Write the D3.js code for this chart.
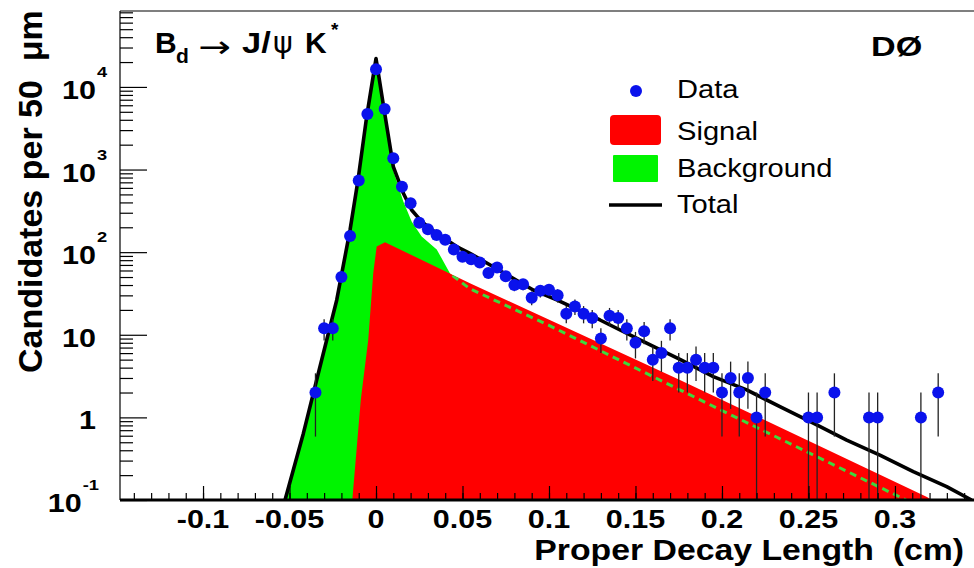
<!DOCTYPE html>
<html>
<head>
<meta charset="utf-8">
<script src="https://cdn.jsdelivr.net/npm/d3@7"></script>
<style>
  body { margin: 0; background: #fff; }
  svg { display: block; }
</style>
</head>
<body>
<svg id="chart" width="974" height="568"></svg>
<script>
// B_d -> J/psi K* proper decay length fit, candidates per 50 um bin

// Data histogram: bin centres (cm) and candidate counts (empty bins omitted)
const binCenters = [-0.035, -0.03, -0.025, -0.02, -0.015, -0.01, -0.005, 0, 0.005, 0.01,
  0.015, 0.02, 0.025, 0.03, 0.035, 0.04, 0.045, 0.05, 0.055, 0.06,
  0.065, 0.07, 0.075, 0.08, 0.085, 0.09, 0.095, 0.1, 0.105, 0.11,
  0.115, 0.12, 0.125, 0.13, 0.135, 0.14, 0.145, 0.15, 0.155, 0.16,
  0.165, 0.17, 0.175, 0.18, 0.185, 0.19, 0.195, 0.2, 0.205, 0.21,
  0.215, 0.22, 0.225, 0.25, 0.255, 0.265, 0.285, 0.29, 0.315, 0.325];
const binCounts = [2, 12, 12, 50, 157, 735, 4700, 16400, 5400, 1370,
  620, 390, 227, 189, 161, 141, 108, 88, 82, 75,
  56, 65, 51, 40, 41, 28, 34, 35, 30, 18,
  22, 18, 16, 9, 17, 16, 12, 8, 11, 5,
  6, 12, 4, 4, 5, 4, 4, 2, 3, 2,
  3, 1, 2, 1, 1, 2, 1, 1, 1, 2];

// Fit curves: total, signal and background components
const totalX = [-0.0526, -0.042, -0.0324, -0.0227, -0.015, -0.0104, -0.0054, 0, 0.0049, 0.01,
  0.0158, 0.0206, 0.0264, 0.0351, 0.0466, 0.0543, 0.0909, 0.1045, 0.1295, 0.1526,
  0.1757, 0.195, 0.2143, 0.2335, 0.2528, 0.2721, 0.2913, 0.3106, 0.3299, 0.3443];
const totalY = [0.1, 0.64, 4.1, 26.4, 186, 748, 4370, 22000, 4980, 1085,
  516, 324, 234, 169, 117, 97, 34.8, 26.4, 15.1, 8.65,
  5.05, 3.11, 2.15, 1.35, 0.85, 0.53, 0.35, 0.22, 0.145, 0.1];

const signalX = [-0.0137, -0.0088, -0.0045, -0.0016, 0.0004, 0.0052, 0.0543, 0.1757, 0.3185, 0.3212];
const signalY = [0.1, 1.63, 8.65, 55.6, 117, 132, 42, 2.84, 0.109, 0.1];

const bkgX = [-0.0526, -0.042, -0.0324, -0.0227, -0.015, -0.0104, -0.0054, 0, 0.0049, 0.01,
  0.0158, 0.0206, 0.0264, 0.0351, 0.0428, 0.0543, 0.1, 0.1757, 0.2, 0.3064];
const bkgY = [0.1, 0.64, 4.1, 26, 186, 745, 4300, 21000, 4850, 970,
  410, 235, 155, 108, 55, 36, 13, 2.15, 1.21, 0.1];

// Axis ticks and labels
const xTickValues = [-0.1, -0.05, 0, 0.05, 0.1, 0.15, 0.2, 0.25, 0.3];
const xTickLabels = ["-0.1", "-0.05", "0", "0.05", "0.1", "0.15", "0.2", "0.25", "0.3"];
const yTickValues = [0.1, 1, 10, 100, 1000, 10000];
const yTickMantissa = ["10", "1", "10", "10", "10", "10"];
const yTickExponent = ["-1", "", "", "2", "3", "4"];

const legendLabels = ["Data", "Signal", "Background", "Total"];

const FONT = "'Liberation Sans', Arial, Helvetica, sans-serif";
const COL = { data: "#0a12ec", signal: "#ff0000", bkg: "#00f400", dash: "#3ed83e", err: "#222" };

const svg = d3.select("#chart");
const plot = { left: 120, right: 974, top: 11, bottom: 500 };

const x = d3.scaleLinear().domain([-0.148, 0.3457]).range([plot.left, plot.right]);
const y = d3.scaleLog().domain([0.1, 83000]).range([plot.bottom, plot.top]);

const pts = (xs, ys) => xs.map((v, i) => [v, ys[i]]);
const totalPts = pts(totalX, totalY);
const signalPts = pts(signalX, signalY);
const bkgPts = pts(bkgX, bkgY);

const defs = svg.append("defs");
defs.append("clipPath").attr("id", "frame")
  .append("rect").attr("x", plot.left).attr("y", plot.top)
  .attr("width", plot.right - plot.left).attr("height", plot.bottom - plot.top);

const area = d3.area().x(d => x(d[0])).y0(y(0.1)).y1(d => y(d[1]));
const line = d3.line().x(d => x(d[0])).y(d => y(d[1]));

defs.append("clipPath").attr("id", "signalClip")
  .append("path").attr("d", area(signalPts));

const g = svg.append("g").attr("clip-path", "url(#frame)");

// filled components
g.append("path").attr("d", area(bkgPts)).attr("fill", COL.bkg);
g.append("path").attr("d", area(signalPts)).attr("fill", COL.signal);
// background tail shown dashed where it runs underneath the signal
g.append("g").attr("clip-path", "url(#signalClip)")
  .append("path").attr("d", line(bkgPts)).attr("fill", "none")
  .attr("stroke", COL.dash).attr("stroke-width", 3).attr("stroke-dasharray", "7,5");
// total fit
g.append("path").attr("d", line(totalPts)).attr("fill", "none")
  .attr("stroke", "#000").attr("stroke-width", 3.6).attr("stroke-linejoin", "round");

// data with Poisson error bars
const data = binCenters.map((c, i) => ({ c, n: binCounts[i] }));
g.selectAll("line.err").data(data).join("line").attr("class", "err")
  .attr("x1", d => x(d.c)).attr("x2", d => x(d.c))
  .attr("y1", d => y(d.n + Math.sqrt(d.n)))
  .attr("y2", d => { const lo = d.n - Math.sqrt(d.n); return lo > 0.1 ? y(lo) : y(0.1); })
  .attr("stroke", COL.err).attr("stroke-width", 1.3);
g.selectAll("circle.pt").data(data).join("circle").attr("class", "pt")
  .attr("cx", d => x(d.c)).attr("cy", d => y(d.n)).attr("r", 6)
  .attr("fill", COL.data);

// axes
const axG = svg.append("g");
const xMinor = d3.range(-14, 35).map(k => k / 100);
axG.append("g").attr("transform", `translate(0,${plot.bottom})`)
  .call(d3.axisBottom(x).tickValues(xMinor).tickSize(-7).tickFormat(""))
  .call(s => s.select(".domain").remove());
axG.append("g").attr("transform", `translate(0,${plot.bottom})`)
  .call(d3.axisBottom(x).tickValues(xTickValues).tickSize(-14).tickFormat(""))
  .call(s => s.select(".domain").remove());

const yMinor = [];
for (let e = -1; e <= 4; e++) for (let m = 2; m <= 9; m++) {
  const v = m * Math.pow(10, e);
  if (v < 83000) yMinor.push(v);
}
axG.append("g").attr("transform", `translate(${plot.left},0)`)
  .call(d3.axisLeft(y).tickValues(yMinor).tickSize(-13).tickFormat(""))
  .call(s => s.select(".domain").remove());
axG.append("g").attr("transform", `translate(${plot.left},0)`)
  .call(d3.axisLeft(y).tickValues(yTickValues).tickSize(-27).tickFormat(""))
  .call(s => s.select(".domain").remove());
axG.selectAll(".tick line").attr("stroke", "#000").attr("stroke-width", 1.2);

// frame
axG.append("line").attr("x1", plot.left).attr("x2", plot.right)
  .attr("y1", plot.top).attr("y2", plot.top).attr("stroke", "#000").attr("stroke-width", 1.2);
axG.append("line").attr("x1", plot.left).attr("x2", plot.left)
  .attr("y1", plot.top).attr("y2", plot.bottom).attr("stroke", "#000").attr("stroke-width", 1.2);
axG.append("line").attr("x1", plot.left).attr("x2", plot.right)
  .attr("y1", plot.bottom).attr("y2", plot.bottom).attr("stroke", "#000").attr("stroke-width", 3.2);

// text helper: horizontally stretched text
function label(sel, px, py, str, o) {
  return sel.append("text")
    .attr("transform", `translate(${px},${py}) scale(${o.sx || 1},1)`)
    .attr("text-anchor", o.anchor || "start")
    .attr("font-family", o.family || FONT)
    .attr("font-size", o.size)
    .attr("font-weight", o.weight || "bold")
    .attr("fill", "#000")
    .style("white-space", "pre")
    .text(str);
}

const tg = svg.append("g");

// x tick labels
xTickValues.forEach((v, i) => {
  label(tg, x(v), 528, xTickLabels[i], { size: 25, sx: 1.22, anchor: "middle" });
});

// y tick labels with exponents
yTickValues.forEach((v, i) => {
  const base = y(v) + 12;
  const exp = yTickExponent[i];
  let mEnd = 96;
  if (exp) {
    const probe = label(tg, 0, -100, exp, { size: 15, sx: 1.22 });
    const ew = probe.node().getComputedTextLength() * 1.22;
    probe.remove();
    if (exp.startsWith("-")) mEnd = 98 - ew;
    label(tg, mEnd + 1, base - 22, exp, { size: 15, sx: 1.22 });
  }
  label(tg, mEnd, base, yTickMantissa[i], { size: 25, sx: 1.22, anchor: "end" });
});

// axis titles
tg.append("text")
  .attr("transform", "translate(42,373) rotate(-90)")
  .attr("font-family", FONT).attr("font-size", 34).attr("font-weight", "bold")
  .style("white-space", "pre")
  .text("Candidates per 50  \u03bcm");
label(tg, 964, 560, "Proper Decay Length  (cm)", { size: 29, sx: 1.165, anchor: "end" });

// decay channel title
label(tg, 155, 53, "B", { size: 30 });
label(tg, 176, 63, "d", { size: 21 });
label(tg, 198, 57, "\u2192", { size: 30, weight: "normal", family: "'DejaVu Sans', sans-serif", sx: 1.3 });
label(tg, 242, 53, "J/", { size: 30, sx: 1.15 });
label(tg, 273, 53, "\u03c8", { size: 30, weight: "normal", family: "'DejaVu Sans', sans-serif" });
label(tg, 305, 53, "K", { size: 30 });
label(tg, 331, 36, "*", { size: 19 });

// experiment label
label(tg, 871, 56, "D\u00d8", { size: 28, sx: 1.22 });

// legend
const lg = svg.append("g");
lg.append("circle").attr("cx", 636).attr("cy", 91).attr("r", 6).attr("fill", COL.data);
lg.append("rect").attr("x", 610).attr("y", 115).attr("width", 51).attr("height", 30)
  .attr("rx", 4).attr("fill", COL.signal);
lg.append("rect").attr("x", 613).attr("y", 155).attr("width", 45).attr("height", 27)
  .attr("rx", 1).attr("fill", COL.bkg);
lg.append("line").attr("x1", 609).attr("x2", 662).attr("y1", 205).attr("y2", 205)
  .attr("stroke", "#000").attr("stroke-width", 3.6);
const legendBase = [98, 140, 177, 213];
legendLabels.forEach((t, i) => {
  label(lg, 677, legendBase[i], t, { size: 26, sx: 1.12, weight: "normal" });
});
</script>
</body>
</html>
